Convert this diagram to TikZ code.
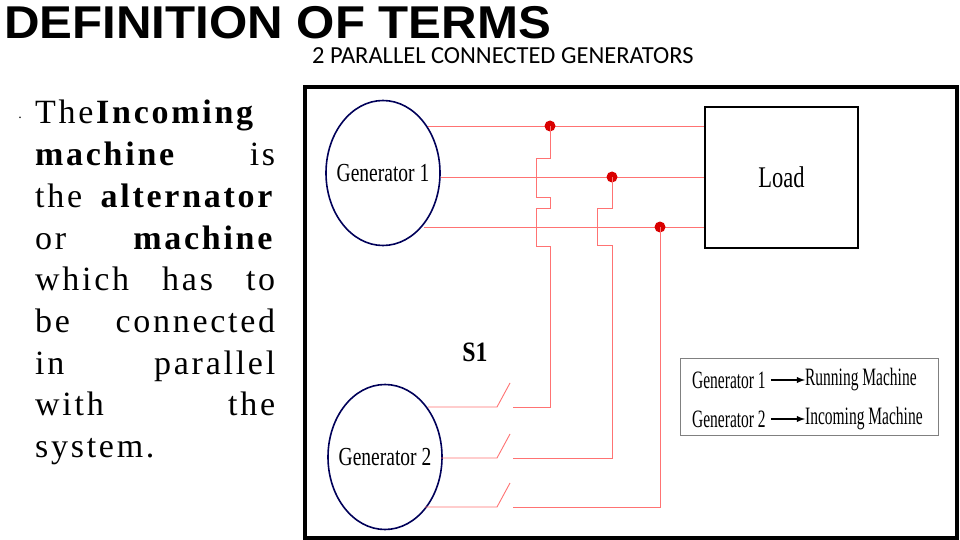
\documentclass[tikz,border=0pt]{standalone}
\usepackage{fontspec}
\usetikzlibrary{shapes.geometric}
\setmainfont{Liberation Serif}
\newfontfamily\bodyfont[LetterSpace=8]{Liberation Serif}
\newfontfamily\titlefont{Liberation Sans}
\newfontfamily\subfont{Carlito}
\begin{document}
\begin{tikzpicture}[x=1pt,y=-1pt,
  wire/.style={draw=red!55!white,line width=0.9pt},
  gen/.style={draw=blue!35!black,line width=1.6pt,ellipse,minimum width=114pt,minimum height=145pt,inner sep=0pt},
  cond/.style={font=\fontsize{26}{26}\selectfont,xscale=0.75},
  lg/.style={font=\fontsize{25}{25}\selectfont,xscale=0.62,anchor=west,inner sep=0pt},
  dot/.style={circle,fill=red!85!black,inner sep=0pt,minimum size=11pt},
  ltxt/.style={anchor=base west,inner sep=0pt,font=\bodyfont\fontsize{34}{34}\selectfont}]
\useasboundingbox (0,0) rectangle (960,540);
\fill[white] (0,0) rectangle (960,540);
\node[anchor=base west,inner sep=0pt,font=\titlefont\bfseries\fontsize{46}{46}\selectfont,xscale=1.07] (title) at (4,39) {DEFINITION OF TERMS};
\node[anchor=base west,inner sep=0pt,font=\subfont\fontsize{24.5}{24.5}\selectfont] (sub) at (312,64) {2 PARALLEL CONNECTED GENERATORS};
\node[inner sep=0pt,font=\fontsize{14}{14}\selectfont] (bul) at (20,118) {.};
\node[ltxt] (first) at (35,124) {The\textbf{Incoming}};
\foreach \y/\t in {165/{\textbf{machine}\hfill is},207/{the \textbf{alternator}},249/{or\hfill\textbf{machine}},290/{which\hfill has\hfill to},332/{be\hfill connected},374/{in\hfill parallel},415/{with\hfill the}}
  \node[ltxt] at (35,\y) {\hbox to 240pt{\t}};
\node[ltxt] (last) at (35,457) {system.};
% frame
\draw[line width=4pt] (305,87) rectangle (957,538);
\node[gen] (g1) at (383,173) {};
\node[cond] at (g1) {Generator 1};
\node[gen] (g2) at (385,457) {};
\node[cond] at (g2) {Generator 2};
\node[draw,line width=1.2pt,minimum width=153pt,minimum height=141pt,inner sep=0pt] (load) at (781.5,177.5) {};
\node[cond,font=\fontsize{30}{30}\selectfont] at (load) {Load};
\node[font=\bfseries\fontsize{28}{28}\selectfont,xscale=0.85] (s1) at (475,352) {S1};
% gen1 lines
\draw[wire] (428,126) -- (load.west|-0,126);
\draw[wire] (441,177) -- (load.west|-0,177);
\draw[wire] (424,227) -- (load.west|-0,227);
\node[dot] (d1) at (550,126) {};
\node[dot] (d2) at (612,177) {};
\node[dot] (d3) at (660,227) {};
% verticals
\draw[wire] (d1.center) -- (550,158) -- (536,158) -- (536,197) -- (550,197) -- (550,208) -- (536,208) -- (536,246) -- (550,246) -- (550,407) -- (513,407);
\draw[wire] (d2.center) -- (612,208) -- (597,208) -- (597,245) -- (612,245) -- (612,458) -- (513,458);
\draw[wire] (d3.center) -- (660,507) -- (513,507);
% gen2 lines with switches
\foreach \y/\x in {407/428,458/441,507/425}{
  \draw[wire] (\x,\y) -- (497,\y) -- (510,\y-24);
}
% legend
\node[draw=gray,line width=0.8pt,minimum width=258pt,minimum height=77pt,inner sep=0pt] (leg) at (809,396.5) {};
\node[lg] (a1) at (692,380) {Generator 1};
\node[lg] (b1) at (805,380) {Running Machine};
\node[lg] (a2) at (692,419) {Generator 2};
\node[lg] (b2) at (805,419) {Incoming Machine};
\draw[line width=1.8pt,-latex] (a1.east)++(5,0) -- (b1.west);
\draw[line width=1.8pt,-latex] (a2.east)++(5,0) -- (b2.west);
\end{tikzpicture}
\end{document}
